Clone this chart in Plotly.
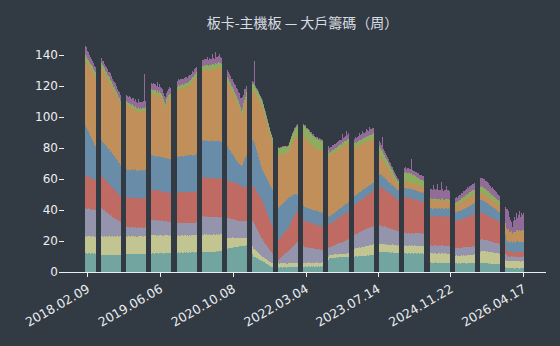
import numpy as np
import plotly.graph_objects as go

# Weekly holdings by shareholder tier (stacked, bottom to top)
teal = [
    12.3,12.1,11.9,12.2,12.0,11.8,12.1,12.4,11.9,12.0,11.8,11.6,11.5,11.3,11.2,11.0,11.2,10.9,11.1,11.0,
    11.1,10.8,11.0,11.2,10.9,11.1,11.0,10.8,11.2,11.0,11.1,10.9,11.0,11.2,11.1,11.3,11.2,11.4,11.3,11.5,
    11.4,11.6,11.5,11.3,11.6,11.5,11.7,11.4,11.5,11.6,11.3,11.5,11.6,11.4,11.7,11.5,11.6,11.8,11.7,11.9,
    11.8,12.0,12.1,11.9,12.2,12.0,11.8,12.1,12.0,12.2,11.9,12.0,12.1,12.3,12.0,11.9,12.1,12.2,12.0,12.1,
    12.0,12.2,12.1,12.3,12.2,12.4,12.3,12.5,12.4,12.6,12.5,12.3,12.6,12.5,12.4,12.7,12.5,12.6,12.4,12.5,
    12.6,12.5,12.7,12.6,12.8,12.5,12.7,12.8,12.9,13.0,12.8,13.1,13.0,12.9,13.1,13.0,13.2,12.9,13.0,13.1,
    13.0,12.9,13.1,13.2,13.0,13.1,13.3,13.2,13.4,13.3,13.5,13.6,14.0,14.3,14.6,14.8,15.0,15.2,15.4,15.5,
    15.6,15.8,15.9,16.0,16.1,16.2,16.0,16.3,16.6,16.8,17.0,16.8,17.1,17.0,16.9,17.2,17.0,16.5,15.0,13.5,
    11.5,10.0,9.8,9.4,9.0,8.8,8.4,8.0,7.6,7.3,7.0,6.6,6.2,5.8,5.3,4.9,4.5,4.0,3.6,3.3,
    3.0,3.1,2.9,3.0,3.2,3.0,2.8,3.1,3.0,2.9,3.0,3.2,3.1,2.9,3.0,3.1,3.0,3.2,3.1,3.3,
    3.2,3.4,3.3,3.5,3.4,3.5,3.6,3.4,3.5,3.3,3.5,3.6,3.4,3.5,3.7,3.5,3.4,3.6,3.5,3.6,
    3.5,3.4,3.6,3.5,3.7,3.5,3.6,3.4,3.6,3.5,4.5,5.5,6.8,8.0,9.0,9.1,8.9,9.2,9.0,9.3,
    9.2,9.4,9.3,9.5,9.4,9.6,9.5,9.7,9.6,9.8,9.7,9.9,10.0,9.9,10.1,10.0,9.9,10.1,10.0,10.2,
    10.1,10.0,10.2,10.3,10.1,10.4,10.3,10.5,10.4,10.6,10.5,10.7,10.6,10.8,10.7,10.9,10.8,11.0,10.9,11.2,
    11.8,12.4,12.8,13.0,12.9,13.1,12.8,13.0,12.7,12.9,12.6,12.8,12.5,12.7,12.4,12.6,12.3,12.5,12.2,12.4,
    12.1,12.3,12.0,12.2,12.1,11.9,12.0,12.2,12.1,11.9,12.0,12.2,11.8,12.0,12.1,11.9,12.1,12.0,11.8,12.0,
    12.1,11.9,12.0,11.8,12.0,11.9,11.8,10.5,9.0,7.8,6.8,6.2,6.0,6.1,5.9,6.0,6.2,6.0,5.8,6.1,
    6.0,5.9,6.1,6.0,5.8,6.0,5.9,6.1,5.8,6.0,5.9,5.7,5.8,5.6,5.7,5.5,5.6,5.4,5.6,5.5,
    5.4,5.6,5.5,5.7,5.5,5.6,5.4,5.6,5.5,5.7,5.6,5.5,5.7,5.6,5.8,5.5,5.7,5.8,5.6,5.7,
    5.8,5.7,5.6,5.8,5.5,5.7,5.6,5.4,5.5,5.3,5.4,5.2,5.3,5.1,5.2,5.0,5.1,4.9,5.0,5.1,
    4.9,4.2,3.6,3.0,2.6,2.4,2.5,2.3,2.4,2.5,2.3,2.4,2.2,2.4,2.3,2.5,2.4,2.2,2.3,2.4,
    2.3,2.4,
]
khaki = [
    11.0,10.8,11.2,10.9,11.1,11.3,10.8,11.0,11.2,10.9,11.1,11.4,11.6,11.8,11.9,12.1,11.8,12.0,12.2,11.9,
    12.1,11.8,12.0,12.2,11.9,12.1,12.0,11.7,12.1,11.9,12.0,12.2,11.8,12.0,11.9,11.7,11.6,11.8,11.5,11.6,
    11.4,11.7,11.5,11.3,11.6,11.8,11.4,11.5,11.7,11.3,11.6,11.5,11.4,11.7,11.5,11.6,11.3,11.5,11.8,11.4,
    11.6,11.5,11.3,11.7,11.4,11.6,11.8,11.5,11.3,11.6,11.4,11.7,11.5,11.6,11.3,11.5,11.7,11.4,11.6,11.5,
    11.4,11.6,11.3,11.5,11.2,11.4,11.1,11.3,11.0,11.2,10.9,11.1,11.0,11.2,10.8,11.0,11.1,10.9,11.2,11.0,
    11.1,10.9,11.0,11.2,10.8,11.1,11.0,10.9,11.2,11.0,10.8,11.1,10.9,11.0,11.2,10.9,11.1,11.0,10.8,11.1,
    11.0,11.2,10.9,11.1,10.8,11.0,11.1,10.9,11.0,10.8,10.9,10.6,9.8,9.0,8.2,7.5,7.0,6.8,6.7,6.5,
    6.4,6.5,6.3,6.2,6.1,6.0,6.0,5.8,5.6,5.3,5.0,5.1,4.9,5.0,5.2,4.9,5.0,5.1,4.9,5.0,
    5.0,5.1,4.8,4.6,4.3,4.1,3.9,3.6,3.4,3.2,3.0,2.9,2.8,2.7,2.8,2.6,2.7,2.5,2.6,2.5,
    2.5,2.4,2.6,2.5,2.3,2.5,2.6,2.4,2.5,2.7,2.5,2.4,2.6,2.5,2.3,2.5,2.6,2.4,2.5,2.6,
    2.4,2.5,2.6,2.5,2.4,2.6,2.5,2.3,2.5,2.4,2.6,2.5,2.4,2.6,2.5,2.3,2.5,2.4,2.6,2.5,
    2.5,2.4,2.6,2.5,2.3,2.5,2.4,2.5,2.6,2.4,2.3,2.2,2.1,2.0,2.0,1.9,2.1,2.0,1.9,2.0,
    2.1,2.0,1.9,2.0,2.1,2.0,1.9,2.1,2.0,2.0,2.1,1.9,2.0,2.1,2.6,3.2,3.9,4.5,5.0,5.1,
    5.2,5.3,5.4,5.6,5.5,5.7,5.8,5.9,6.0,6.1,6.2,6.3,6.2,6.4,6.5,6.6,6.7,6.8,6.9,7.0,
    6.6,6.0,5.5,5.0,5.1,4.9,5.0,5.2,4.9,5.1,5.0,4.8,5.1,5.0,4.9,5.2,5.0,4.9,5.1,5.0,
    5.0,5.1,4.9,5.0,5.2,5.0,4.9,5.1,5.0,4.8,5.1,5.0,4.9,5.2,5.0,4.9,5.1,5.0,5.2,4.9,
    5.0,5.1,4.9,5.0,5.1,5.0,5.1,5.3,5.5,5.7,5.9,6.0,6.1,5.9,6.0,6.2,6.0,5.9,6.1,6.0,
    6.1,5.9,6.0,6.2,5.9,6.0,6.1,5.8,6.0,5.9,6.0,5.9,5.6,5.3,5.1,5.0,5.1,4.9,5.0,5.1,
    5.0,5.1,5.0,5.2,5.1,5.3,5.2,5.4,5.3,5.2,5.4,5.3,5.5,5.4,5.6,5.5,5.9,6.5,7.0,7.5,
    7.8,7.7,7.9,7.6,7.8,7.5,7.7,7.6,7.4,7.5,7.3,7.4,7.2,7.3,7.1,7.2,7.0,7.1,6.9,7.0,
    6.8,6.2,5.6,5.0,4.8,4.6,4.7,4.5,4.6,4.8,4.5,4.6,4.7,4.4,4.6,4.5,4.7,4.6,4.4,4.6,
    4.5,4.6,
]
lavender = [
    18.2,18.0,17.8,17.9,17.6,17.5,17.3,17.4,17.1,17.0,17.2,17.5,17.8,17.9,18.0,18.0,17.5,17.1,16.6,16.1,
    15.6,15.3,14.5,14.3,13.6,13.4,12.6,12.4,11.7,11.5,10.8,10.5,9.9,9.6,9.0,8.4,7.8,7.2,6.6,6.1,
    6.0,5.8,6.1,5.9,5.7,6.0,5.8,5.6,5.9,5.7,5.5,5.8,5.6,5.4,5.7,5.5,5.6,5.4,5.6,6.2,
    7.0,8.0,9.2,10.0,10.1,9.9,10.0,9.8,9.9,9.7,9.6,9.8,9.5,9.4,9.6,9.3,9.1,9.0,9.2,8.9,
    8.8,8.6,8.7,8.5,8.4,8.6,8.3,8.2,8.0,8.1,7.9,8.2,8.0,7.8,8.1,7.9,8.0,8.2,7.9,8.1,
    8.0,7.9,8.1,8.0,7.8,8.1,7.9,8.5,9.5,10.4,11.2,11.8,12.0,11.9,12.1,11.8,11.9,11.6,11.7,11.5,
    11.6,11.4,11.5,11.3,11.4,11.2,11.3,11.1,11.2,11.0,11.1,11.0,11.5,12.0,12.5,12.8,13.0,12.7,12.5,12.2,
    12.0,11.8,11.7,11.5,11.3,11.2,11.0,11.1,10.9,11.0,11.1,10.9,11.0,11.2,10.9,11.0,11.1,12.0,13.5,15.0,
    16.2,17.0,16.5,15.8,15.0,14.4,13.8,13.0,12.3,11.6,11.0,10.5,10.0,9.6,9.1,8.6,8.2,7.7,7.3,6.9,
    6.4,5.5,4.6,3.7,3.0,2.5,3.0,3.6,4.2,4.8,5.4,5.9,6.5,7.0,7.5,8.0,8.6,9.2,9.7,10.3,
    10.9,11.5,12.1,12.7,13.3,14.0,13.2,12.4,11.6,10.8,10.0,9.9,9.7,9.8,9.5,9.6,9.3,9.4,9.1,9.2,
    9.0,8.9,8.7,8.8,8.5,8.6,8.3,8.4,8.1,8.0,7.4,6.8,6.2,5.6,5.0,5.2,5.4,5.6,5.8,6.0,
    6.2,6.4,6.6,6.9,7.1,7.3,7.5,7.8,8.0,8.2,8.4,8.6,8.8,9.0,9.1,9.0,8.9,9.1,9.0,9.2,
    9.3,9.5,9.6,9.8,10.0,10.1,10.3,10.5,10.6,10.8,11.0,11.1,11.3,11.4,11.6,11.7,11.8,12.0,12.1,12.2,
    12.2,12.1,12.0,12.0,11.8,11.7,11.5,11.3,11.2,11.0,10.8,10.7,10.5,10.3,10.2,10.0,9.8,9.6,9.5,9.3,
    9.2,9.1,9.0,8.8,8.6,8.4,8.2,8.0,8.1,7.9,8.0,8.2,7.9,8.1,8.0,7.8,8.1,7.9,8.0,8.2,
    7.9,8.1,8.0,7.8,8.0,7.9,7.8,7.4,6.9,6.3,5.7,5.2,5.0,5.1,4.9,5.0,5.2,4.9,5.0,5.1,
    5.0,4.9,5.1,5.0,4.8,5.0,5.1,4.9,5.0,5.2,4.9,5.0,5.1,4.9,5.0,5.1,4.9,5.0,5.2,5.0,
    5.1,5.0,5.2,5.1,5.3,5.2,5.4,5.3,5.4,5.5,5.4,5.6,5.5,5.4,5.6,5.5,5.9,6.4,6.9,7.3,
    7.5,7.6,7.4,7.3,7.4,7.2,7.1,7.2,7.0,6.9,6.8,6.9,6.7,6.6,6.5,6.4,6.3,6.2,6.1,6.0,
    5.9,5.2,4.5,3.8,3.3,3.0,3.1,2.9,3.0,3.2,2.9,3.1,3.0,2.8,3.1,3.0,2.9,3.1,3.0,2.9,
    3.0,3.1,
]
red = [
    21.2,21.0,20.6,20.8,20.3,20.1,19.9,19.6,19.5,19.2,19.0,19.4,19.9,20.4,20.8,21.0,20.8,20.6,20.4,20.2,
    20.0,19.8,19.6,19.4,19.2,19.0,18.7,18.5,18.3,18.0,17.8,17.6,17.3,17.2,17.0,17.4,17.8,18.2,18.6,19.0,
    19.1,18.9,19.0,19.2,18.8,19.1,18.9,19.0,19.3,18.8,19.0,19.1,18.9,19.2,19.0,18.8,19.1,19.0,18.9,19.2,
    19.3,19.4,19.5,19.6,19.4,19.5,19.3,19.4,19.2,19.3,19.1,19.2,19.0,19.1,18.9,19.0,18.8,19.0,18.9,18.7,
    18.6,18.5,18.7,18.5,18.8,19.0,19.3,19.6,19.8,20.0,19.9,20.1,20.0,19.8,20.1,19.9,20.0,20.2,19.9,20.1,
    20.0,20.2,19.9,20.1,20.0,19.8,20.1,20.5,21.5,22.5,23.5,24.3,25.0,25.2,24.8,25.1,24.9,25.3,25.0,24.8,
    25.1,24.9,25.2,25.0,24.8,25.1,24.9,25.0,25.2,24.9,25.0,24.8,24.6,24.4,24.2,24.0,24.1,23.9,24.0,24.1,
    23.9,24.0,24.1,23.8,24.0,23.9,23.8,23.4,23.0,22.6,22.2,22.0,22.1,21.9,22.0,22.1,22.0,22.2,22.4,22.6,
    22.8,23.0,23.2,23.4,23.6,23.9,24.1,24.4,24.6,24.8,25.0,24.3,23.5,22.8,22.0,21.2,20.4,19.6,18.8,18.0,
    17.0,16.0,15.0,14.0,13.2,12.5,12.8,13.0,13.3,13.5,13.8,14.0,14.3,14.5,14.8,15.0,15.8,16.6,17.4,18.2,
    18.8,19.3,19.6,19.8,20.0,20.1,19.5,18.8,18.1,17.5,17.0,16.8,16.9,16.7,16.6,16.4,16.5,16.3,16.2,16.0,
    15.9,15.8,15.6,15.7,15.5,15.4,15.3,15.2,15.1,15.0,15.0,14.9,15.0,15.1,15.0,15.2,15.4,15.6,15.8,15.9,
    16.1,16.3,16.4,16.6,16.8,16.9,17.1,17.2,17.4,17.5,17.7,17.8,17.9,18.0,18.2,18.4,18.6,18.8,19.0,19.2,
    19.4,19.6,19.8,20.0,20.2,20.4,20.6,20.8,21.0,21.2,21.4,21.6,21.8,22.0,22.2,22.4,22.6,22.8,23.0,23.4,
    23.8,24.3,24.7,25.0,24.8,24.5,24.2,24.0,23.7,23.4,23.2,22.9,22.6,22.4,22.1,21.8,21.5,21.2,20.9,20.5,
    20.3,20.0,20.6,21.2,21.8,22.4,22.8,23.0,22.9,23.1,22.8,22.6,22.7,22.4,22.3,22.1,21.9,21.7,21.5,21.2,
    21.0,20.8,20.6,20.5,20.3,20.1,20.0,19.8,19.6,19.4,19.2,19.0,19.1,18.9,19.0,19.2,18.9,19.1,19.0,18.8,
    19.0,19.1,18.9,19.0,19.2,18.8,19.0,19.1,18.9,19.0,18.7,18.3,17.9,17.5,17.2,17.0,17.1,17.3,17.5,17.7,
    17.9,18.1,18.3,18.5,18.7,18.9,19.1,19.3,19.5,19.7,19.9,20.1,20.3,20.5,20.4,20.5,19.9,19.1,18.3,17.6,
    17.0,17.1,16.9,16.7,16.5,16.4,16.2,16.0,15.8,15.7,15.5,15.3,15.2,15.0,14.8,14.7,14.5,14.4,14.2,14.0,
    13.8,11.0,8.0,5.5,3.8,3.0,3.2,2.9,3.1,3.0,2.8,3.1,3.0,2.9,3.2,3.0,2.8,3.1,3.0,2.9,
    3.1,3.0,
]
blue = [
    32.0,31.0,30.1,29.0,28.2,27.1,26.2,25.0,24.1,23.0,22.0,22.2,22.5,22.8,23.0,23.0,22.8,22.9,22.6,22.7,
    22.5,22.6,22.3,22.4,22.1,22.2,21.9,21.8,21.6,21.3,21.1,20.8,20.6,20.3,20.0,19.6,19.2,18.8,18.4,18.0,
    18.1,17.9,18.0,18.2,17.8,18.1,17.9,18.0,18.3,17.8,18.0,18.2,17.9,18.1,17.8,18.0,18.2,17.9,18.1,19.0,
    20.0,21.0,21.6,22.0,22.1,21.9,22.0,22.2,21.8,22.1,21.9,22.0,22.2,21.8,22.1,22.0,21.9,22.1,22.0,21.8,
    22.0,22.1,21.9,22.2,22.4,22.6,22.8,23.0,23.0,23.1,22.9,23.2,23.0,23.3,23.1,23.4,23.2,23.5,23.3,23.6,
    23.5,23.7,23.6,23.8,23.7,23.9,24.0,23.8,24.1,23.9,24.0,24.2,24.0,23.8,24.1,23.9,24.2,24.0,23.9,24.1,
    24.0,23.9,24.2,24.0,23.8,24.1,23.9,24.0,24.2,23.9,24.0,23.8,23.5,23.1,22.7,22.3,22.0,21.2,20.4,19.6,
    18.8,18.0,17.2,16.4,15.6,14.8,14.0,13.8,13.5,13.2,13.0,14.5,16.0,17.5,19.0,20.5,22.0,23.5,25.5,27.5,
    29.2,30.0,29.0,27.8,26.6,25.4,24.2,23.0,22.0,21.0,20.0,20.4,20.8,21.2,21.6,22.0,22.4,22.8,23.2,23.6,
    24.0,23.4,22.8,22.2,21.6,21.0,20.8,20.6,20.4,20.2,20.0,19.8,19.6,19.4,19.2,19.0,18.1,17.2,16.3,15.4,
    14.5,13.6,12.7,11.8,10.9,10.0,9.8,9.6,9.4,9.2,9.0,9.1,8.9,9.0,9.2,8.9,9.0,9.1,8.8,9.0,
    9.1,8.9,9.0,9.2,8.9,9.0,9.1,8.8,9.0,9.0,8.1,7.2,6.3,5.4,4.5,4.6,4.8,4.9,5.0,5.1,
    5.2,5.1,5.3,5.4,5.3,5.5,5.4,5.6,5.7,5.6,5.8,5.7,5.9,6.0,6.1,6.0,5.9,6.1,6.0,6.1,
    6.0,5.9,6.0,5.8,5.9,5.7,5.8,5.6,5.7,5.5,5.6,5.4,5.5,5.3,5.4,5.2,5.3,5.1,5.0,5.4,
    6.2,7.0,7.6,8.0,7.9,7.8,7.7,7.6,7.5,7.4,7.3,7.1,7.0,6.9,6.8,6.7,6.6,6.5,6.4,6.3,
    6.2,6.1,6.0,6.1,5.9,6.0,6.2,6.0,5.9,6.1,6.0,5.8,6.1,6.0,5.9,6.1,6.0,6.2,5.9,6.0,
    6.1,5.9,6.0,6.1,5.9,6.0,5.9,5.7,5.5,5.3,5.1,5.0,5.1,4.9,5.0,5.2,4.9,5.0,5.1,4.9,
    5.0,5.1,4.9,5.0,5.2,4.9,5.0,5.1,4.9,5.0,5.2,5.1,5.3,5.5,5.7,5.9,6.0,6.1,6.0,6.2,
    6.1,6.3,6.2,6.4,6.3,6.5,6.4,6.6,6.5,6.7,6.6,6.8,6.7,6.9,7.0,7.0,7.3,7.6,7.9,8.2,
    8.5,8.4,8.3,8.2,8.1,8.0,7.9,7.8,7.6,7.5,7.4,7.3,7.1,7.0,6.9,6.7,6.6,6.4,6.2,6.0,
    6.0,6.1,6.2,6.3,6.4,6.5,6.6,6.4,6.5,6.7,6.3,6.5,6.6,6.4,6.5,6.7,6.4,6.6,6.5,6.3,
    6.5,6.4,
]
orange = [
    42.0,42.5,42.8,43.1,43.3,43.6,43.9,44.2,44.4,44.7,45.0,45.4,45.8,46.2,46.6,47.0,46.5,46.1,45.6,45.2,
    44.8,44.2,44.1,43.4,43.3,42.6,42.5,41.8,41.7,41.0,40.9,40.2,40.1,39.4,39.0,39.7,40.1,40.9,41.3,42.0,
    41.6,41.2,40.9,40.5,40.1,39.8,39.4,39.0,38.7,38.3,38.0,38.3,37.8,38.1,37.6,38.0,38.4,37.9,38.2,38.6,
    39.0,39.5,39.8,40.0,39.6,40.1,39.7,40.2,39.5,39.8,39.2,39.6,38.8,38.5,37.0,35.0,33.5,32.5,35.0,37.5,
    39.0,39.5,40.0,40.3,40.8,41.3,41.8,42.3,43.0,43.2,43.5,43.3,43.8,44.0,43.7,44.2,44.5,44.3,44.8,45.0,
    45.5,46.0,46.8,47.5,48.2,49.0,49.6,50.0,48.5,47.0,46.0,45.2,45.0,45.4,44.8,45.6,45.1,45.8,45.3,46.0,
    45.7,46.2,45.9,46.4,46.8,47.2,47.0,47.6,47.3,47.8,47.4,47.0,45.0,44.2,43.4,42.6,42.0,41.6,41.2,40.8,
    40.4,40.0,39.6,39.2,38.8,38.4,38.0,36.8,35.6,34.3,33.0,33.8,34.6,35.4,36.2,37.0,38.0,37.0,36.0,34.5,
    33.0,32.0,33.0,34.0,35.0,36.0,37.0,38.0,38.8,39.5,40.0,39.0,38.0,37.0,36.0,35.0,34.0,33.0,32.0,31.0,
    30.5,31.2,32.0,32.8,33.4,34.0,33.5,33.0,32.6,32.1,31.7,31.2,30.8,30.3,30.0,30.0,31.0,32.0,32.8,33.8,
    34.7,35.6,36.5,37.4,38.2,39.0,40.5,42.0,43.5,44.5,45.0,44.6,44.1,43.5,43.0,42.6,42.1,41.5,41.0,40.6,
    40.4,40.1,39.9,40.2,39.8,40.0,39.7,40.1,39.8,40.0,39.8,39.7,39.6,39.5,39.5,39.4,39.3,39.2,39.1,39.0,
    38.9,39.0,38.8,38.7,38.9,38.6,38.5,38.7,38.4,38.5,38.3,38.2,38.1,38.0,36.6,35.2,33.8,32.4,31.0,30.8,
    30.6,30.8,30.5,30.3,30.4,30.1,30.0,29.8,29.9,29.6,29.5,29.3,29.4,29.1,29.0,28.8,28.7,28.5,28.3,27.0,
    22.0,17.0,14.0,12.0,11.5,11.0,10.4,9.9,9.4,8.9,8.4,7.9,7.4,6.9,6.4,5.9,5.4,4.9,4.4,3.9,
    3.5,3.3,3.2,3.4,3.6,3.8,4.0,4.1,3.9,4.0,4.2,3.9,4.1,4.0,3.8,4.1,4.0,3.9,4.2,4.0,
    4.1,3.9,4.0,4.2,4.0,4.1,4.2,4.4,4.6,4.8,5.0,5.1,4.9,5.0,5.2,4.9,5.0,5.1,4.8,5.0,
    5.1,4.9,5.0,5.2,4.8,5.0,5.1,4.9,5.0,4.8,4.6,4.4,4.2,4.1,4.0,4.0,4.2,4.4,4.6,4.8,
    4.9,5.0,5.2,5.3,5.4,5.5,5.6,5.7,5.8,5.9,6.0,5.9,6.1,6.0,5.9,6.0,5.6,5.2,4.9,4.6,
    4.5,4.6,4.4,4.5,4.3,4.4,4.2,4.3,4.1,4.2,4.0,4.1,4.0,3.9,4.1,4.0,3.9,4.1,4.0,3.9,
    4.5,5.2,6.0,6.8,7.2,7.4,6.9,6.4,5.9,5.4,5.0,5.4,5.8,6.2,6.6,7.0,6.8,7.1,6.9,7.0,
    7.2,7.0,
]
green = [
    3.0,3.2,2.9,3.1,3.0,2.8,3.1,3.0,2.9,3.1,3.0,3.1,2.9,3.0,3.2,3.0,2.9,3.1,3.0,2.8,
    3.0,2.9,2.8,3.0,2.9,2.7,2.8,2.6,2.7,2.5,2.6,2.4,2.5,2.6,2.5,2.4,2.3,2.2,2.1,2.0,
    2.1,1.9,2.0,2.2,1.9,2.0,2.1,1.8,2.0,2.1,1.9,2.0,2.2,1.9,2.0,2.1,1.9,2.0,2.1,2.2,
    2.3,2.4,2.5,2.6,2.4,2.5,2.7,2.4,2.6,2.5,2.4,2.6,2.5,2.3,2.5,2.6,2.4,2.5,2.6,2.4,
    2.5,2.6,2.4,2.5,2.7,2.4,2.6,2.5,2.3,2.5,2.6,2.4,2.5,2.7,2.5,2.4,2.6,2.5,2.3,2.5,
    2.6,2.4,2.5,2.7,2.5,2.6,2.4,2.5,2.7,2.8,3.0,2.9,3.1,3.0,2.8,3.0,3.1,2.9,3.0,3.2,
    3.0,2.9,3.1,3.0,2.8,3.1,3.0,2.9,3.2,3.0,2.9,3.1,3.0,2.8,3.0,3.1,2.9,3.0,3.2,3.0,
    2.9,3.1,3.0,2.8,3.0,3.2,3.0,2.9,3.1,3.0,2.8,3.0,3.1,2.9,3.0,3.2,3.0,3.2,3.4,3.6,
    3.8,4.0,4.1,3.9,4.0,4.2,3.9,4.0,4.1,3.9,4.0,3.8,3.7,3.6,3.5,3.4,3.3,3.2,3.1,3.0,
    3.3,3.6,3.9,4.2,4.4,4.5,4.4,4.6,4.3,4.5,4.2,4.4,4.1,4.3,4.0,4.0,4.4,4.8,5.2,5.5,
    5.7,5.9,6.0,5.8,6.1,6.0,6.3,6.5,6.7,6.9,7.0,7.2,6.8,7.1,6.9,7.0,6.7,6.9,6.6,6.8,
    6.5,6.7,6.3,6.5,6.2,6.4,6.1,6.3,6.0,6.0,5.2,4.4,3.6,2.8,2.0,2.1,1.9,2.0,2.2,2.0,
    2.1,2.0,2.2,2.3,2.1,2.4,2.3,2.5,2.4,2.6,2.5,2.7,2.8,3.0,2.9,3.0,3.1,2.9,3.0,3.1,
    2.9,3.0,3.2,3.1,2.9,3.0,3.2,3.1,2.9,3.0,3.1,3.3,3.0,3.2,3.1,2.9,3.0,3.2,3.1,3.4,
    4.0,4.5,4.8,5.0,4.9,4.8,4.6,4.5,4.3,4.2,4.0,3.9,3.7,3.6,3.4,3.3,3.1,3.0,2.8,2.7,
    2.6,2.5,3.2,3.9,4.6,5.3,5.8,6.0,5.9,6.1,5.8,6.0,5.7,5.9,5.6,5.4,5.2,5.0,4.8,4.6,
    4.4,4.2,4.1,4.0,3.9,4.0,3.8,3.2,2.6,2.0,1.4,1.0,1.1,0.9,1.0,1.1,0.9,1.0,1.2,1.0,
    1.1,0.9,1.0,1.2,1.0,0.9,1.1,1.0,1.2,1.0,1.1,1.3,1.5,1.7,1.9,2.0,2.1,1.9,2.2,2.3,
    2.2,2.4,2.3,2.5,2.4,2.6,2.5,2.7,2.6,2.8,2.7,2.9,2.8,3.0,2.9,3.0,3.3,3.6,3.8,4.0,
    4.1,4.0,3.9,4.1,3.8,4.0,3.7,3.9,3.6,3.8,3.5,3.7,3.4,3.6,3.3,3.4,3.2,3.3,3.1,3.0,
    2.6,2.0,1.4,0.9,0.6,0.5,0.6,0.5,0.4,0.6,0.5,0.5,0.6,0.4,0.5,0.6,0.5,0.4,0.5,0.6,
    0.5,0.5,
]
purple = [
    6.0,6.5,5.5,5.1,4.7,4.3,4.0,3.8,3.5,3.3,3.0,3.1,2.9,3.0,3.2,3.0,2.9,3.6,3.0,3.2,
    3.1,3.8,3.0,3.4,4.2,3.5,3.3,3.6,3.4,4.5,3.5,3.7,3.4,3.6,3.5,3.8,3.7,3.9,4.0,3.8,
    4.1,3.9,4.8,4.0,4.3,3.8,5.1,4.0,4.4,4.2,3.9,4.9,4.3,4.0,4.2,3.9,4.1,22.0,4.2,4.0,
    4.1,3.9,4.2,4.0,3.8,4.6,4.3,4.0,3.9,5.2,4.0,4.1,3.8,4.0,4.4,4.2,4.0,3.9,4.1,4.0,
    3.9,4.1,3.8,4.0,3.7,3.9,3.6,4.5,3.5,3.7,3.4,4.2,3.5,3.3,3.6,3.4,4.1,3.7,3.4,3.6,
    3.5,3.7,3.4,3.6,3.5,3.8,3.6,3.5,3.8,4.0,3.9,4.1,4.0,3.8,4.2,4.0,3.9,5.5,4.3,4.0,
    4.1,3.9,6.5,4.2,4.0,7.0,4.3,3.9,4.1,6.0,4.2,4.0,4.1,4.3,4.0,4.2,4.1,4.4,4.2,4.5,
    4.6,5.0,4.8,5.5,6.0,5.2,6.5,5.8,7.5,6.2,8.0,6.8,5.5,7.0,4.8,4.0,3.5,3.0,2.5,2.0,
    1.5,1.2,16.0,1.1,0.9,1.0,1.2,1.0,0.9,1.1,1.0,0.9,0.8,0.9,0.7,0.8,0.6,0.7,0.5,0.6,
    0.5,0.6,0.4,0.5,0.6,0.5,0.4,0.6,0.5,0.4,0.5,0.6,0.5,0.4,0.5,0.6,0.5,0.7,0.6,0.8,
    0.9,1.0,0.8,1.1,0.9,1.0,1.1,0.9,1.0,0.8,1.0,1.1,0.9,1.0,0.8,1.0,1.1,0.9,1.0,1.2,
    1.0,0.9,1.1,1.0,0.8,1.0,1.1,0.9,1.0,1.0,1.4,1.8,2.2,2.6,3.0,3.1,2.9,3.2,3.0,3.3,
    3.1,2.9,3.2,3.0,3.4,2.8,3.1,5.5,2.9,3.2,3.5,6.0,3.2,3.4,3.1,3.0,2.9,3.2,3.0,3.1,
    3.2,3.0,3.3,4.5,3.1,3.4,5.0,3.2,3.5,3.3,4.8,3.6,3.4,5.5,3.7,3.5,4.2,3.8,4.0,4.1,
    3.5,3.2,3.0,3.2,3.1,9.0,2.9,2.8,3.0,2.7,2.6,2.5,2.4,2.3,2.2,2.0,1.9,1.8,1.7,1.6,
    1.5,1.6,1.9,2.2,2.5,2.8,3.0,3.1,2.9,3.0,3.2,2.8,3.1,9.0,2.9,3.1,3.0,2.8,3.1,3.0,
    3.1,2.9,3.0,3.2,2.9,3.1,3.0,3.6,4.2,4.8,5.4,6.0,6.3,5.8,9.0,6.2,5.7,6.5,10.0,6.1,
    5.8,6.4,11.0,6.0,5.7,6.3,5.9,8.5,6.2,5.8,6.0,5.4,4.8,4.2,3.6,3.0,3.2,2.9,3.1,3.3,
    3.2,3.5,3.4,3.6,3.8,3.5,3.7,4.0,3.8,3.9,4.1,3.9,4.2,4.0,4.3,4.1,4.5,4.9,5.2,5.5,
    5.6,5.4,5.8,5.5,5.3,5.2,5.4,5.0,4.9,4.8,4.6,4.7,4.4,4.3,4.1,3.9,3.7,3.5,3.3,3.1,
    4.5,6.5,8.5,10.5,12.0,13.0,11.5,9.5,7.5,6.0,5.0,7.0,9.5,8.0,11.0,7.5,10.0,12.0,9.0,11.5,
    10.0,11.0,
]

tick_labels = ["2018.02.09", "2019.06.06", "2020.10.08", "2022.03.04",
               "2023.07.14", "2024.11.22", "2026.04.17"]

series = [
    ("teal", teal, "rgba(141,211,199,0.7)"),
    ("khaki", khaki, "rgba(255,255,179,0.7)"),
    ("lavender", lavender, "rgba(190,186,218,0.7)"),
    ("red", red, "rgba(251,128,114,0.7)"),
    ("blue", blue, "rgba(128,177,211,0.7)"),
    ("orange", orange, "rgba(253,180,98,0.7)"),
    ("green", green, "rgba(179,222,105,0.7)"),
    ("purple", purple, "rgba(188,128,189,0.7)"),
]

n = len(teal)
weeks = list(range(n))
tick_pos = [int(round(v)) for v in np.linspace(2, n - 1, len(tick_labels))]

BG = "#323a44"
FG = "#eceef0"

fig = go.Figure()
for name, vals, color in series:
    fig.add_trace(go.Bar(
        x=weeks, y=vals, name=name,
        marker=dict(color=color, line=dict(width=0)),
        hoverinfo="skip", showlegend=False,
    ))

fig.update_layout(
    width=560, height=346,
    margin=dict(l=59, r=14, t=40, b=74),
    paper_bgcolor=BG, plot_bgcolor=BG,
    barmode="stack", bargap=0.2,
    title=dict(
        text="板卡-主機板 — 大戶籌碼（周）",
        font=dict(family="Noto Sans CJK TC", size=14, color="#d8dce0"),
        x=0.5, xref="paper", xanchor="center",
        y=1 - 23 / 346, yref="container", yanchor="middle",
    ),
    xaxis=dict(
        range=[-25.45, 442.3],
        tickmode="array", tickvals=tick_pos, ticktext=tick_labels,
        tickangle=-30, ticks="outside", ticklen=4, tickwidth=1, tickcolor=FG,
        showline=True, linecolor=FG, linewidth=1.3,
        showgrid=False, zeroline=False,
        tickfont=dict(family="DejaVu Sans", size=12.5, color=FG),
    ),
    yaxis=dict(
        range=[0, 232 / 1.55],
        tickmode="array", tickvals=[0, 20, 40, 60, 80, 100, 120, 140],
        ticks="inside", ticklen=5, tickwidth=1, tickcolor=FG,
        showline=False, showgrid=False, zeroline=False,
        tickfont=dict(family="DejaVu Sans", size=12, color=FG),
    ),
)

crisp = ("document.querySelectorAll('.barlayer path').forEach(function(p)"
         "{p.setAttribute('shape-rendering','crispEdges');});")
fig.write_html("out.html", post_script=crisp, config={"displayModeBar": False})
